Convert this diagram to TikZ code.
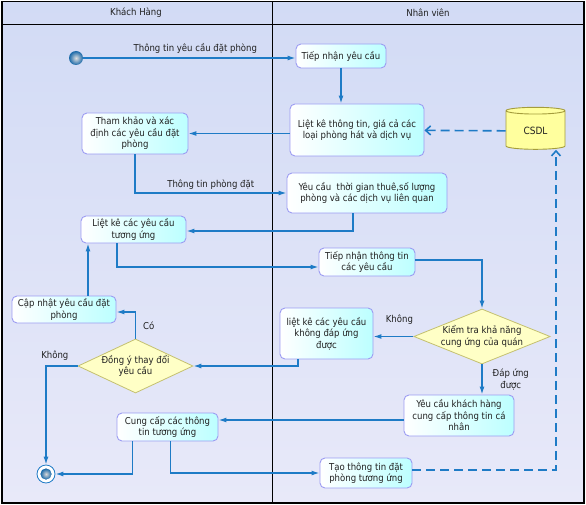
\documentclass[tikz,border=0pt]{standalone}
\usepackage{fontspec}
\setmainfont{DejaVu Sans Condensed}
\usetikzlibrary{shapes.geometric,arrows.meta}

\definecolor{linec}{HTML}{1E7BC6}
\definecolor{boxline}{HTML}{9C9CF2}
\definecolor{boxcyan}{HTML}{BCFFFF}
\definecolor{diamfill}{HTML}{FFFFC6}
\definecolor{diamline}{HTML}{C4C070}
\definecolor{dbfill}{HTML}{FFFF9E}
\definecolor{dbline}{HTML}{A49C3C}
\definecolor{lanetop}{HTML}{D2DBF5}
\definecolor{lanebot}{HTML}{E8E9F9}
\definecolor{txt}{HTML}{202020}

\tikzset{
  act/.style={rectangle, rounded corners=5pt, draw=boxline, line width=0.9pt,
    left color=white, right color=boxcyan, align=center, inner sep=2pt,
    font=\fontsize{9.5}{11.5}\selectfont, text=txt},
  choice/.style={diamond, draw=diamline, fill=diamfill, line width=0.8pt,
    align=center, inner sep=0pt, font=\fontsize{9.5}{11.5}\selectfont, text=txt},
  db/.style={cylinder, shape border rotate=90, aspect=0.22, draw=dbline,
    fill=dbfill, line width=0.9pt, minimum width=59pt, minimum height=42pt,
    font=\fontsize{10}{12}\selectfont, text=txt},
  startnode/.style={circle, minimum size=14pt, inner sep=0pt,
    inner color=gray!25, outer color=linec!85!black},
  endnode/.style={circle, minimum size=18pt, inner sep=0pt, draw=linec,
    line width=0.8pt, fill=white},
  flow/.style={draw=linec, line width=1.3pt, -{Latex[length=8pt,width=5pt]}},
  dataflow/.style={draw=linec, line width=1.6pt, dash pattern=on 9pt off 5pt,
    -{Straight Barb[length=5pt,width=9pt]}},
  lbl/.style={font=\fontsize{9.5}{11.5}\selectfont, text=txt, inner sep=1pt, align=center},
}

\begin{document}
\begin{tikzpicture}[x=1pt,y=-1pt]
\useasboundingbox (0,0) rectangle (586,505);

\shade[top color=lanetop, bottom color=lanebot] (2,1.5) rectangle (272,503);
\shade[top color=lanetop, bottom color=lanebot] (272,1.5) rectangle (584,503);
\draw[line width=1.2pt] (2,1.5) rectangle (584,503);
\draw[line width=1pt] (2,25) -- (584,25);
\draw[line width=1pt] (272,1.5) -- (272,503);
\node[lbl] (laneKH) at (136,13) {Khách Hàng};
\node[lbl] (laneNV) at (428,13) {Nhân viên};

\node[act, minimum width=90pt, minimum height=24pt] (tiep) at (341,56) {Tiếp nhận yêu cầu};
\node[act, minimum width=134pt, minimum height=52pt] (lietke) at (357,130) {Liệt kê thông tin, giá cả các\\loại phòng hát và dịch vụ};
\node[act, minimum width=106pt, minimum height=41pt] (thamkhao) at (135,133.5) {Tham khảo và xác\\định các yêu cầu đặt\\phòng};
\node[act, minimum width=160pt, minimum height=40pt] (yeucau) at (367,193) {Yêu cầu\ \ thời gian thuê,số lượng\\phòng và các dịch vụ liên quan};
\node[act, minimum width=105pt, minimum height=27pt] (dsyc) at (133.5,229.5) {Liệt kê các yêu cầu\\tương ứng};
\node[act, minimum width=96pt, minimum height=28pt] (tiepnhan) at (367,262) {Tiếp nhận thông tin\\các yêu cầu};
\node[choice, aspect=2.5, minimum width=136pt, minimum height=55pt] (kiemtra) at (482,336.5) {Kiểm tra khả năng\\cung ứng của quán};
\node[act, minimum width=93pt, minimum height=51pt] (khongdu) at (326.5,333.5) {liệt kê các yêu cầu\\không đáp ứng\\được};
\node[act, minimum width=104pt, minimum height=27pt] (capnhat) at (64,309.5) {Cập nhật yêu cầu đặt\\phòng};
\node[choice, aspect=2.1, minimum width=115pt, minimum height=54pt] (dongy) at (135.5,366) {Đồng ý thay đổi\\yêu cầu};
\node[act, minimum width=101pt, minimum height=28pt] (cungcap) at (167.5,427) {Cung cấp các thông\\tin tương ứng};
\node[act, minimum width=110pt, minimum height=41pt] (yeucaukh) at (459,415.5) {Yêu cầu khách hàng\\cung cấp thông tin cá\\nhân};
\node[act, minimum width=92pt, minimum height=30pt] (taott) at (366,473) {Tạo thông tin đặt\\phòng tương ứng};
\node[db] (csdl) at (535.5,131) {CSDL};
\node[startnode] (start) at (76,58) {};
\node[endnode] (final) at (46,474) {};
\fill[linec, inner color=gray!30, outer color=linec!85!black] (final.center) circle (5.5);

\draw[flow] (start) -- (start -| tiep.west) node[lbl, midway, above=3pt, xshift=6pt] {Thông tin yêu cầu đặt phòng};
\draw[flow] (tiep) -- (tiep |- lietke.north);
\draw[dataflow] (csdl) -- (lietke);
\draw[flow] (lietke.west |- thamkhao) -- (thamkhao);
\draw[flow] (thamkhao) |- (yeucau) node[lbl, pos=0.75, above=2pt] {Thông tin phòng đặt};
\draw[flow] ([xshift=-14pt]yeucau.south) |- ([yshift=-1.5pt]dsyc.east);
\draw[flow] ([xshift=-16.5pt]dsyc.south) |- ([yshift=-5pt]tiepnhan.west);
\draw[flow] ([yshift=2pt]tiepnhan.east) -| (kiemtra);
\draw[flow] (kiemtra) -- (kiemtra -| khongdu.east) node[lbl, pos=0.35, above=10pt] {Không};
\draw[flow] ([xshift=-28.5pt]khongdu.south) |- (dongy);
\draw[flow] (dongy) |- ([yshift=-2.5pt]capnhat.east) node[lbl, pos=0.25, right=6pt] {Có};
\draw[flow] ([xshift=24pt]capnhat.north) -- ([xshift=24pt]capnhat.north |- dsyc.south);
\draw[flow] (dongy) -| (final) node[lbl, pos=0.36, above=4pt] {Không};
\draw[flow] (kiemtra) -- (kiemtra |- yeucaukh.north) node[lbl, midway, right=9pt] {Đáp ứng\\được};
\draw[flow] ([yshift=-4.5pt]yeucaukh.west) -- ([yshift=-4.5pt]yeucaukh.west -| cungcap.east);
\draw[flow] ([xshift=-35pt]cungcap.south) |- (final);
\draw[flow] ([xshift=3pt]cungcap.south) |- (taott);
\draw[dataflow] ([yshift=3pt]taott.east) -| ([xshift=20.5pt]csdl.south);
\end{tikzpicture}
\end{document}
